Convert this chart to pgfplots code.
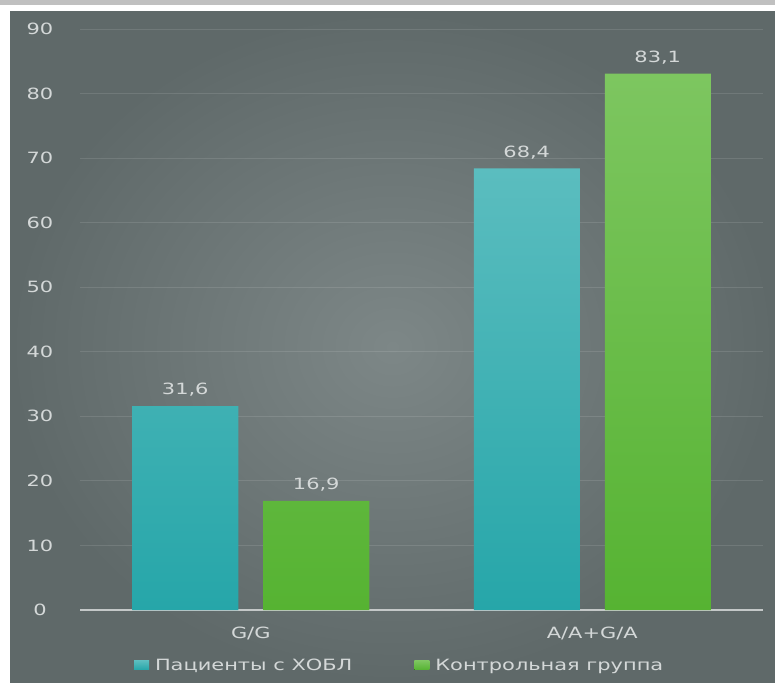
\documentclass[border=0pt]{standalone}
\usepackage{fontspec}
\setmainfont{DejaVu Sans}[FakeStretch=1.35]
\usepackage{pgfplots}
\pgfplotsset{compat=1.18}
\definecolor{bgin}{HTML}{7D8787}
\definecolor{bgout}{HTML}{5F6969}
\definecolor{tealtop}{HTML}{5BBDBF}
\definecolor{tealbot}{HTML}{26A6A9}
\definecolor{greentop}{HTML}{7DC660}
\definecolor{greenbot}{HTML}{56B332}
\definecolor{txt}{HTML}{D4D8D8}
\definecolor{zline}{HTML}{C4C8C8}
\definecolor{strip}{HTML}{C0C0C0}
\begin{document}
\begin{tikzpicture}[x=1pt,y=1pt]
\fill[white] (0,0) rectangle (775,682);
\fill[strip] (0,677) rectangle (775,682);
\shade[inner color=bgin, outer color=bgout] (10,0) rectangle (775,670);
\begin{axis}[
  at={(80pt,72pt)}, anchor=south west,
  scale only axis, width=683pt, height=581pt,
  xmin=-0.5, xmax=1.5, ymin=0, ymax=90,
  ytick={0,10,...,90}, xtick={0,1}, xticklabels={G/G, A/A+G/A},
  /pgf/number format/assume math mode=true,
  font=\fontsize{15.5}{18}\selectfont,
  ticklabel style={text=txt},
  yticklabel style={anchor=center, xshift=-40pt},
  xticklabel style={anchor=center, yshift=-23pt},
  major tick length=0pt,
  axis x line*=bottom, axis y line*=left,
  y axis line style={draw=none},
  x axis line style={draw=zline, line width=1.6pt},
  ymajorgrids, grid style={draw=white, opacity=0.11, line width=0.8pt},
  ybar=25pt, bar width=106pt,
  nodes near coords={\pgfmathprintnumber[fixed,fixed zerofill,precision=1,use comma,assume math mode=true]{\pgfplotspointmeta}},
  every node near coord/.append style={text=txt, anchor=center, yshift=16pt},
  legend style={at={(0.468,-0.095)}, anchor=center, draw=none, fill=none,
    legend columns=2, text=txt, font=\fontsize{15.5}{18}\selectfont,
    /tikz/every even column/.append style={column sep=60pt}},
  legend image code/.code={\fill[#1] (0pt,-4.5pt) rectangle (15pt,4.5pt); \path (0pt,0pt) -- (19pt,0pt);},
  clip=false,
]
\addplot[draw=none, top color=tealtop, bottom color=tealbot] coordinates {(0,31.6) (1,68.4)};
\addplot[draw=none, top color=greentop, bottom color=greenbot] coordinates {(0,16.9) (1,83.1)};
\legend{Пациенты с ХОБЛ, Контрольная группа}
\end{axis}
\pgfresetboundingbox
\useasboundingbox (0,0) rectangle (775,682);
\end{tikzpicture}
\end{document}
